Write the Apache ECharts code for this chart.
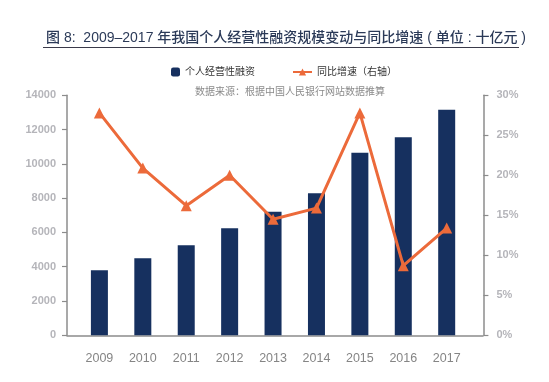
<!DOCTYPE html>
<html>
<head>
<meta charset="utf-8">
<script src="https://cdn.jsdelivr.net/npm/echarts@6/dist/echarts.min.js"></script>
<style>html,body{margin:0;padding:0;background:#fff;}#c{width:549px;height:382px;}</style>
</head>
<body>
<div id="c"></div>
<script>
var categories = ['2009','2010','2011','2012','2013','2014','2015','2016','2017'];
var financing = [3800, 4500, 5250, 6250, 7200, 8280, 10650, 11550, 13150];
var growth = [27.8, 20.9, 16.2, 20.0, 14.5, 15.9, 27.8, 8.7, 13.4];
var leftTicks = {min: 0, max: 14000, interval: 2000};
var rightTicks = {min: 0, max: 30, interval: 5};

var FONT = '"Liberation Sans", "Noto Sans CJK SC", sans-serif';
var chart = echarts.init(document.getElementById('c'), null, {renderer: 'canvas'});
chart.setOption({
  animation: false,
  backgroundColor: '#fff',
  title: [
    {text: '图 8:  2009–2017 年我国个人经营性融资规模变动与同比增速 ( 单位 : 十亿元 )',
     left: 41, top: 26,
     textStyle: {fontFamily: FONT, fontSize: 14, fontWeight: 500, color: '#2b3a58'}},
    {text: '数据来源：根据中国人民银行网站数据推算', left: 190, top: 82,
     textStyle: {fontFamily: FONT, fontSize: 10, fontWeight: 'normal', color: '#8a8a8a'}}
  ],
  graphic: [
    {type: 'line', shape: {x1: 43, y1: 47.5, x2: 519, y2: 47.5},
     style: {stroke: '#3a3a4a', lineWidth: 1}}
  ],
  legend: [
    {data: ['个人经营性融资'], left: 166, top: 62, itemWidth: 9, itemHeight: 9, itemGap: 6,
     textStyle: {fontFamily: FONT, fontSize: 10, color: '#333'}},
    {data: ['同比增速（右轴）'], left: 287, top: 62, itemWidth: 19, itemHeight: 9,
     textStyle: {fontFamily: FONT, fontSize: 10, color: '#333'}}
  ],
  grid: [
    {left: 77.7, right: 549 - 468.4, top: 95.3, bottom: 46.7},
    {left: 67, right: 66, top: 95.3, bottom: 46.7}
  ],
  xAxis: [
    {type: 'category', data: categories, gridIndex: 0,
     axisLine: {show: false}, axisTick: {show: false},
     axisLabel: {margin: 17, fontFamily: FONT, fontSize: 12.5, color: '#858585'}},
    {type: 'value', gridIndex: 1, min: 0, max: 1,
     axisLine: {show: true, lineStyle: {color: '#8c8c8c', width: 1.5}},
     axisTick: {show: false}, axisLabel: {show: false}, splitLine: {show: false}}
  ],
  yAxis: [
    {type: 'value', gridIndex: 0, position: 'left', offset: 10.7,
     min: leftTicks.min, max: leftTicks.max, interval: leftTicks.interval,
     axisLine: {show: true, lineStyle: {color: '#8c8c8c', width: 1.5}},
     axisTick: {show: true, length: 5, lineStyle: {color: '#8c8c8c', width: 1.2}},
     axisLabel: {margin: 11, fontFamily: FONT, fontSize: 11, fontWeight: 'bold', color: '#b5b5ba',
       formatter: function (v) { return String(v); }},
     splitLine: {show: false}},
    {type: 'value', gridIndex: 0, position: 'right', offset: 15,
     min: rightTicks.min, max: rightTicks.max, interval: rightTicks.interval,
     axisLine: {show: true, lineStyle: {color: '#8c8c8c', width: 1.5}},
     axisTick: {show: true, length: 5, lineStyle: {color: '#8c8c8c', width: 1.2}},
     axisLabel: {margin: 13, fontFamily: FONT, fontSize: 11, fontWeight: 'bold', color: '#b5b5ba',
       formatter: '{value}%'},
     splitLine: {show: false}},
    {type: 'value', gridIndex: 1, show: false}
  ],
  series: [
    {name: '个人经营性融资', type: 'bar', xAxisIndex: 0, yAxisIndex: 0,
     data: financing, barWidth: 17, itemStyle: {color: '#16305f'}},
    {name: '同比增速（右轴）', type: 'line', xAxisIndex: 0, yAxisIndex: 1,
     data: growth, symbol: 'triangle', symbolSize: 11,
     lineStyle: {color: '#ec6a3a', width: 3}, itemStyle: {color: '#ec6a3a'}}
  ]
});
</script>
</body>
</html>
